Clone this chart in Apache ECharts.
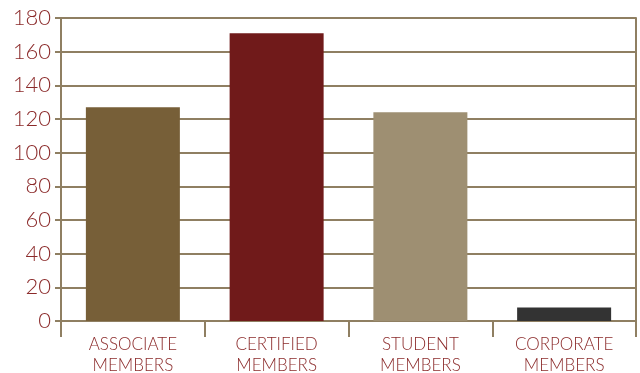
<!DOCTYPE html>
<html>
<head>
<meta charset="utf-8">
<script src="https://cdn.jsdelivr.net/npm/echarts@6/dist/echarts.min.js"></script>
<style>
  html, body { margin: 0; padding: 0; background: #fff; }
  #chart { width: 640px; height: 373px; }
</style>
</head>
<body>
<div id="chart"></div>
<script>
const categories = ['ASSOCIATE\nMEMBERS', 'CERTIFIED\nMEMBERS', 'STUDENT\nMEMBERS', 'CORPORATE\nMEMBERS'];
const values = [127, 171, 124, 8];
const barColors = ['#775f38', '#701a1a', '#9e8f72', '#333333'];
const yTicks = [0, 20, 40, 60, 80, 100, 120, 140, 160, 180];

const lineColor = '#8f7f62';
const labelColor = '#8b2a2a';
const font = 'Lato, "Open Sans", sans-serif';

const chart = echarts.init(document.getElementById('chart'));

const option = {
    animation: false,
    grid: { left: 61, right: 4, top: 18, bottom: 52, containLabel: false, outerBoundsMode: 'none' },
    xAxis: {
        type: 'category',
        data: categories,
        boundaryGap: true,
        axisLine: { show: true, lineStyle: { color: lineColor, width: 2 } },
        axisTick: { show: true, length: 16, lineStyle: { color: lineColor, width: 2 } },
        axisLabel: {
            color: labelColor,
            fontFamily: font,
            fontWeight: 300,
            fontSize: 17,
            lineHeight: 21,
            margin: 13
        }
    },
    yAxis: [
        {
            type: 'value',
            min: yTicks[0],
            max: yTicks[yTicks.length - 1],
            interval: 20,
            axisLine: { show: true, lineStyle: { color: lineColor, width: 2 } },
            axisTick: { show: true, length: 6, lineStyle: { color: lineColor, width: 2 } },
            axisLabel: {
                color: labelColor,
                fontFamily: font,
                fontWeight: 300,
                fontSize: 22,
                margin: 10
            },
            splitLine: { show: true, lineStyle: { color: lineColor, width: 2 } }
        },
        {
            type: 'value',
            position: 'right',
            min: yTicks[0],
            max: yTicks[yTicks.length - 1],
            axisLine: { show: true, lineStyle: { color: lineColor, width: 2 } },
            axisTick: { show: false },
            axisLabel: { show: false },
            splitLine: { show: false }
        }
    ],
    series: [
        {
            type: 'bar',
            barWidth: 94,
            data: values.map((v, i) => ({ value: v, itemStyle: { color: barColors[i] } })),
            z: 1
        }
    ]
};

chart.setOption(option);
</script>
</body>
</html>
